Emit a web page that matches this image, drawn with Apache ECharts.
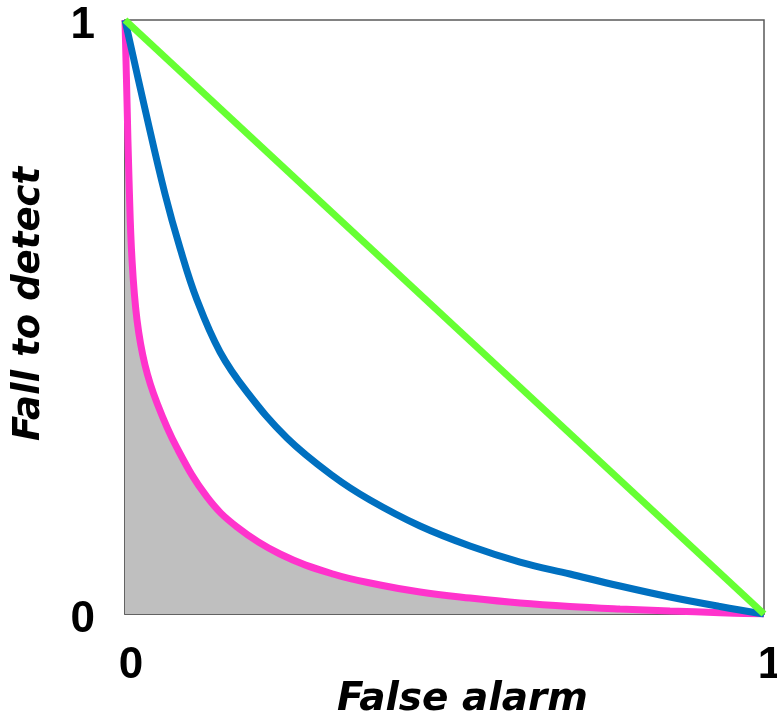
<!DOCTYPE html>
<html>
<head>
<meta charset="utf-8">
<script src="https://cdn.jsdelivr.net/npm/echarts@6/dist/echarts.min.js"></script>
<style>
html,body{margin:0;padding:0;background:#fff;}
#chart{width:777px;height:722px;}
</style>
</head>
<body>
<div id="chart"></div>
<script>
// Axis ticks
var tickValues = [0, 1];
var xTitle = 'False alarm';
var yTitle = 'Fall to detect';

// Pink curve (shaded area beneath) : x = false alarm, y = fail to detect
var pinkX = [0, 0.0031, 0.0063, 0.0110, 0.0188, 0.0313, 0.0501, 0.0814, 0.1283, 0.1753, 0.2426, 0.3255, 0.3991, 0.4617, 0.5399, 0.6182, 0.6964, 0.7746, 0.8529, 0.9311, 1];
var pinkY = [1, 0.8653, 0.7306, 0.5960, 0.4949, 0.4192, 0.3552, 0.2795, 0.1970, 0.1465, 0.1010, 0.0673, 0.0488, 0.0370, 0.0269, 0.0185, 0.0126, 0.0084, 0.0051, 0.0022, 0];

// Blue curve
var blueX = [0, 0.0313, 0.0626, 0.0861, 0.1127, 0.1487, 0.1909, 0.2535, 0.3255, 0.3834, 0.4617, 0.5399, 0.6182, 0.6964, 0.7746, 0.8529, 0.9311, 1];
var blueY = [1, 0.8502, 0.7071, 0.6162, 0.5286, 0.4411, 0.3737, 0.2963, 0.2323, 0.1919, 0.1481, 0.1145, 0.0875, 0.0673, 0.0471, 0.0286, 0.0126, 0];

// Green diagonal
var greenX = [0, 1];
var greenY = [1, 0];

function pairs(xs, ys) { return xs.map(function (x, i) { return [x, ys[i]]; }); }

var chart = echarts.init(document.getElementById('chart'));
var labelFont = {fontFamily: 'Liberation Sans', fontWeight: 'bold', fontSize: 44, color: '#000'};
var titleFont = {fontFamily: 'DejaVu Sans', fontWeight: 'bold', fontStyle: 'italic', color: '#000'};
function fmt(v) { return tickValues.indexOf(v) >= 0 ? String(v) : ''; }

chart.setOption({
  animation: false,
  grid: {left: 125, top: 20, right: 13, bottom: 108, containLabel: false, outerBoundsMode: 'none',
         show: true, borderColor: '#595959', borderWidth: 1.5, backgroundColor: 'transparent'},
  xAxis: {
    type: 'value', min: 0, max: 1, interval: 1,
    name: xTitle, nameLocation: 'middle', nameGap: 66, nameMoveOverlap: false,
    nameTextStyle: Object.assign({fontSize: 39, padding: [0, 0, 0, 36]}, titleFont),
    axisLine: {show: true, lineStyle: {color: '#595959', width: 1.5}},
    axisTick: {show: false}, splitLine: {show: false},
    axisLabel: Object.assign({margin: 30, padding: [0, 0, 0, 12], formatter: fmt}, labelFont)
  },
  yAxis: {
    type: 'value', min: 0, max: 1, interval: 1,
    name: yTitle, nameLocation: 'middle', nameGap: 77, nameMoveOverlap: false,
    nameTextStyle: Object.assign({fontSize: 37, padding: [0, 0, 0, 26]}, titleFont),
    axisLine: {show: true, lineStyle: {color: '#595959', width: 1.5}},
    axisTick: {show: false}, splitLine: {show: false},
    axisLabel: Object.assign({margin: 30, verticalAlign: 'top', lineHeight: 11, formatter: fmt}, labelFont)
  },
  series: [
    {type: 'line', data: pairs(pinkX, pinkY), smooth: 0.4, showSymbol: false,
     lineStyle: {color: '#FF33CC', width: 7}, areaStyle: {color: '#BFBFBF', opacity: 1}},
    {type: 'line', data: pairs(blueX, blueY), smooth: 0.4, showSymbol: false,
     lineStyle: {color: '#0070C0', width: 7}},
    {type: 'line', data: pairs(greenX, greenY), showSymbol: false,
     lineStyle: {color: '#66FF33', width: 7}}
  ]
});
</script>
</body>
</html>
